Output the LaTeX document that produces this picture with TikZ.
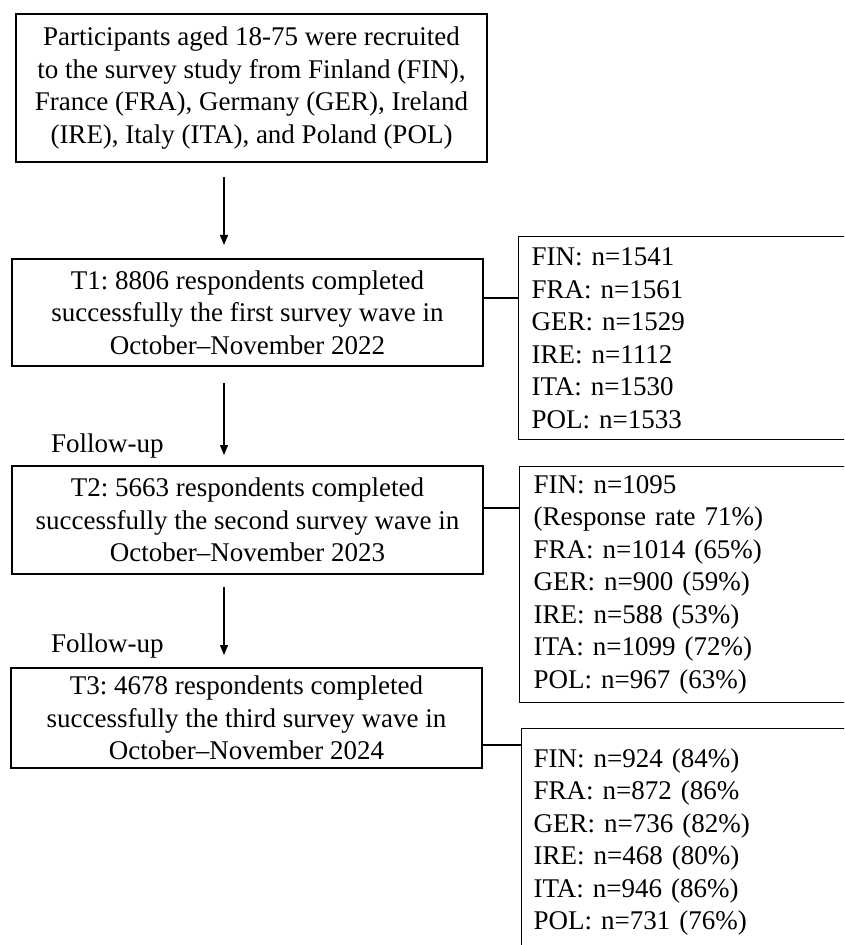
\documentclass[tikz,border=0pt]{standalone}
\usepackage{fontspec}
\setmainfont{Liberation Serif}
\usetikzlibrary{arrows.meta,calc}
\frenchspacing
\begin{document}
\begin{tikzpicture}[x=0.5pt,y=-0.5pt,
  txt/.style={font=\fontsize{13.5}{16.25}\selectfont},
  mainbox/.style={draw, line width=0.6pt, txt, align=center, inner sep=1pt, minimum width=235.5pt},
  sidebox/.style={draw, line width=0.6pt, txt, align=left, anchor=north west, inner ysep=2pt, text width=180pt},
  arr/.style={line width=0.6pt, -{Triangle[length=5pt,width=4pt]}},
  link/.style={line width=0.6pt}]
\useasboundingbox (0,0) rectangle (844,945);
\clip (0,0) rectangle (844,945);
\fill[white] (0,0) rectangle (844,945);

\node[mainbox, minimum height=74pt] (b0) at (251.5,88)
  {Participants aged 18-75 were recruited\\to the survey study from Finland (FIN),\\France (FRA), Germany (GER), Ireland\\(IRE), Italy (ITA), and Poland (POL)};
\node[mainbox, minimum height=53.5pt] (t1) at (247.5,312.5)
  {T1: 8806 respondents completed\\successfully the first survey wave in\\October--November 2022};
\node[mainbox, minimum height=54pt] (t2) at (247.5,520)
  {T2: 5663 respondents completed\\successfully the second survey wave in\\October--November 2023};
\node[mainbox, minimum height=50pt] (t3) at (246.5,718)
  {T3: 4678 respondents completed\\successfully the third survey wave in\\October--November 2024};

\node[sidebox, inner xsep=6.5pt, minimum height=101.5pt] (r1) at (518,236)
  {FIN: n=1541\\FRA: n=1561\\GER: n=1529\\IRE: n=1112\\ITA: n=1530\\POL: n=1533};
\node[sidebox, inner xsep=7pt, minimum height=118pt] (r2) at (519,466)
  {FIN: n=1095\\(Response rate 71\%)\\FRA: n=1014 (65\%)\\GER: n=900 (59\%)\\IRE: n=588 (53\%)\\ITA: n=1099 (72\%)\\POL: n=967 (63\%)};
\node[sidebox, inner xsep=6pt, minimum height=113.5pt] (r3) at (521,728)
  {FIN: n=924 (84\%)\\FRA: n=872 (86\%\\GER: n=736 (82\%)\\IRE: n=468 (80\%)\\ITA: n=946 (86\%)\\POL: n=731 (76\%)};

\node[txt, anchor=base west] (f1) at (44,452) {Follow-up};
\node[txt, anchor=base west] (f2) at (44,652) {Follow-up};

\coordinate (a1s) at (224,177); \coordinate (a1e) at (224,245);
\coordinate (a2s) at (224,383); \coordinate (a2e) at (224,455);
\coordinate (a3s) at (224,587); \coordinate (a3e) at (224,655);
\draw[arr] (a1s) -- (a1e);
\draw[arr] (a2s) -- (a2e);
\draw[arr] (a3s) -- (a3e);

\coordinate (c1) at ($(t1.east)+(0,-14.5)$);
\coordinate (c2) at ($(t2.east)+(0,-12)$);
\coordinate (c3) at ($(t3.east)+(0,27)$);
\draw[link] (c1) -- (c1 -| r1.west);
\draw[link] (c2) -- (c2 -| r2.west);
\draw[link] (c3) -- (c3 -| r3.west);
\end{tikzpicture}
\end{document}
